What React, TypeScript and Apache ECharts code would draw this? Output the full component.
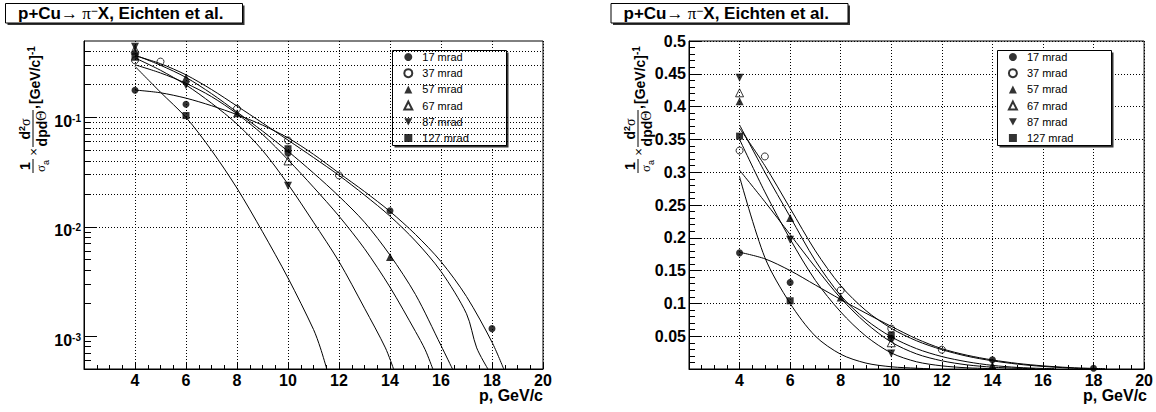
import React, { useEffect, useRef } from 'react';
import * as echarts from 'echarts';

const SANS = '"Liberation Sans", Arial, Helvetica, sans-serif';
const SERIF = '"Liberation Serif", "DejaVu Serif", serif';

// Production angles (legend labels)
const angles = ['17 mrad', '37 mrad', '57 mrad', '67 mrad', '87 mrad', '127 mrad'];

// Measured points [p (GeV/c), value]
const pts17 = [[4, 0.177], [6, 0.132], [10, 0.047], [14, 0.014], [18, 0.00117]];
const pts37 = [[4, 0.333], [5, 0.324], [8, 0.12], [10, 0.0616], [12, 0.0295]];
const pts57 = [[4, 0.408], [6, 0.23], [8, 0.109], [14, 0.0053]];
const pts67 = [[4, 0.421], [10, 0.04]];
const pts87 = [[4, 0.444], [6, 0.197], [10, 0.0237]];
const pts127 = [[4, 0.355], [6, 0.104], [10, 0.0517]];

// Parametrisation curves, sampled [p, value]
const fit17 = [[4, 0.178], [5, 0.168], [6, 0.15], [7, 0.128], [8, 0.106], [9, 0.085], [10, 0.065], [11, 0.046], [12, 0.031], [13, 0.021], [14, 0.0138], [15, 0.0085], [16, 0.0048], [17, 0.0023], [18, 0.00088], [18.46, 0.0005]];
const fit37 = [[4, 0.367], [5, 0.31], [6, 0.245], [7, 0.18], [8, 0.127], [9, 0.089], [10, 0.062], [11, 0.043], [12, 0.0295], [13, 0.0195], [14, 0.0125], [15, 0.0074], [16, 0.0039], [17, 0.0016], [17.4, 0.00078], [17.84, 0.0005]];
const fit57 = [[4, 0.372], [5, 0.3], [6, 0.232], [7, 0.165], [8, 0.112], [9, 0.075], [10, 0.049], [11, 0.031], [12, 0.019], [13, 0.011], [14, 0.0055], [15, 0.0024], [16, 0.00082], [16.45, 0.0005]];
const fit67 = [[4, 0.303], [5, 0.255], [6, 0.205], [7, 0.155], [8, 0.108], [9, 0.07], [10, 0.041], [11, 0.023], [12, 0.0125], [13, 0.0063], [14, 0.0028], [15, 0.0011], [15.38, 0.00075], [15.68, 0.0005]];
const fit87 = [[4, 0.35], [5, 0.27], [6, 0.198], [7, 0.135], [8, 0.087], [9, 0.05], [10, 0.0245], [11, 0.011], [12, 0.0048], [13, 0.0018], [13.82, 0.00078], [14.14, 0.0005]];
const fit127 = [[4, 0.293], [5, 0.17], [6, 0.1], [7, 0.05], [8, 0.0225], [9, 0.009], [10, 0.0034], [11, 0.00115], [11.27, 0.00078], [11.52, 0.0005]];

const points = [pts17, pts37, pts57, pts67, pts87, pts127];
const fits = [fit17, fit37, fit57, fit67, fit87, fit127];

// Axis settings
const xMin = 2;
const xMax = 20;
const xStep = 2;
const xTitle = 'p, GeV/c';
const logMin = 0.0005;
const logMax = 0.5;
const logMajor = [0.001, 0.01, 0.1];
const linMax = 0.5;
const linStep = 0.05;

// minor log ticks at 2..9 x decade inside the axis range
const logMinor: number[] = [];
[0.0001, 0.001, 0.01, 0.1].forEach((d) => {
  for (let m = 2; m <= 9; m++) {
    const v = Number((m * d).toPrecision(6));
    if (v > logMin && v < logMax) logMinor.push(v);
  }
});
const logGrid = [...logMajor, ...logMinor];

const DOT = [1, 2];

// marker look for each angle
const markerDefs = [
  { symbol: 'circle', size: 7, hollow: false },
  { symbol: 'circle', size: 7, hollow: true },
  { symbol: 'triangle', size: 8, hollow: false },
  { symbol: 'triangle', size: 8, hollow: true },
  { symbol: 'path://M0,0L10,0L5,9Z', size: 8, hollow: false },
  { symbol: 'rect', size: 7, hollow: false },
];

function xAxisCfg(gridIndex: number) {
  return {
    type: 'value',
    gridIndex,
    min: xMin,
    max: xMax,
    interval: xStep,
    axisLine: { show: true, lineStyle: { color: '#000', width: 1 } },
    axisTick: { show: true, inside: true, length: 7, lineStyle: { color: '#000' } },
    minorTick: { show: true, splitNumber: 4, length: 4, lineStyle: { color: '#000' } },
    splitLine: { show: true, lineStyle: { color: '#000', type: DOT, width: 1 } },
    axisLabel: {
      showMinLabel: false,
      margin: 3,
      fontSize: 16,
      fontWeight: 'bold',
      fontFamily: SANS,
      color: '#000',
    },
  };
}

const labelRich = {
  b: { fontSize: 16, fontWeight: 'bold', fontFamily: SANS, color: '#000', verticalAlign: 'bottom', lineHeight: 16 },
  s: { fontSize: 10, fontWeight: 'bold', fontFamily: SANS, color: '#000', verticalAlign: 'top', lineHeight: 10 },
};

function legendCfg(left: number) {
  return {
    data: angles,
    left,
    top: 51,
    orient: 'vertical',
    padding: 0,
    itemWidth: 8,
    itemHeight: 8,
    itemGap: 4.2,
    selectedMode: false,
    z: 6,
    textStyle: { fontSize: 11, fontFamily: SANS, color: '#000', lineHeight: 12, padding: [0, 0, 0, 5] },
  };
}

function boxWithShadow(x: number, y: number, w: number, h: number) {
  return [
    { type: 'rect', z: 5, silent: true, shape: { x: x + 2, y: y + 2, width: w, height: h }, style: { fill: '#333', stroke: 'none' } },
    { type: 'rect', z: 5, silent: true, shape: { x, y, width: w, height: h }, style: { fill: '#fff', stroke: '#000', lineWidth: 1 } },
  ];
}

function titleBox(x: number) {
  return [
    ...boxWithShadow(x + 5.5, 3.5, 237, 19.5),
    {
      type: 'text',
      z: 6,
      silent: true,
      x: x + 18,
      y: 13.5,
      style: {
        text: '{b|p+Cu}{a|\u2192 \u03c0}{s|\u2212}{b|X, Eichten et al.}',
        verticalAlign: 'middle',
        rich: {
          b: { fontFamily: SANS, fontWeight: 'bold', fontSize: 17, fill: '#000', lineHeight: 18 },
          a: { fontFamily: SERIF, fontSize: 17, fill: '#000', lineHeight: 18 },
          s: { fontFamily: SANS, fontSize: 12, fill: '#000', verticalAlign: 'top', lineHeight: 10 },
        },
      },
    },
  ];
}

function axisTitle(right: number) {
  return {
    type: 'text',
    silent: true,
    x: right,
    y: 387,
    style: {
      text: xTitle,
      fontFamily: SANS,
      fontWeight: 'bold',
      fontSize: 16,
      fill: '#000',
      align: 'right',
      verticalAlign: 'top',
    },
  };
}

function yTitle(x: number, y: number) {
  const bold = { fontFamily: SANS, fontWeight: 'bold', fill: '#000' };
  return {
    type: 'group',
    x,
    y,
    rotation: Math.PI / 2,
    silent: true,
    children: [
      { type: 'text', x: 8, y: -1, style: { ...bold, text: '1', fontSize: 14, align: 'center', verticalAlign: 'bottom' } },
      { type: 'line', shape: { x1: 1, y1: 0, x2: 15, y2: 0 }, style: { stroke: '#000', lineWidth: 1 } },
      {
        type: 'text', x: 8, y: 1,
        style: {
          text: '{g|\u03c3}{a|a}', align: 'center', verticalAlign: 'top',
          rich: {
            g: { fontFamily: SERIF, fontSize: 13, fill: '#000', lineHeight: 13, verticalAlign: 'top' },
            a: { fontFamily: SANS, fontSize: 9, fill: '#000', lineHeight: 16, verticalAlign: 'bottom' },
          },
        },
      },
      { type: 'text', x: 22, y: 0, style: { text: '\u00d7', fontFamily: SANS, fontSize: 13, fill: '#000', align: 'center', verticalAlign: 'middle' } },
      {
        type: 'text', x: 45, y: -1,
        style: {
          text: '{d|d}{t|2}{g|\u03c3}', align: 'center', verticalAlign: 'bottom',
          rich: {
            d: { ...bold, fontSize: 14, lineHeight: 15, verticalAlign: 'bottom' },
            t: { ...bold, fontSize: 9, lineHeight: 9, verticalAlign: 'top' },
            g: { fontFamily: SERIF, fontSize: 14, fill: '#000', lineHeight: 15, verticalAlign: 'bottom' },
          },
        },
      },
      { type: 'line', shape: { x1: 27, y1: 0, x2: 64, y2: 0 }, style: { stroke: '#000', lineWidth: 1 } },
      {
        type: 'text', x: 45.5, y: 1,
        style: {
          text: '{d|dpd}{g|\u0398}', align: 'center', verticalAlign: 'top',
          rich: {
            d: { ...bold, fontSize: 14, lineHeight: 15 },
            g: { fontFamily: SERIF, fontSize: 14, fill: '#000', lineHeight: 15 },
          },
        },
      },
      { type: 'text', x: 65, y: 7, style: { ...bold, text: ',', fontSize: 14, align: 'left', verticalAlign: 'bottom' } },
      {
        type: 'text', x: 70, y: 1,
        style: {
          text: '{b|[GeV/c]}{s|-1}', align: 'left', verticalAlign: 'middle',
          rich: {
            b: { ...bold, fontSize: 14, lineHeight: 16, verticalAlign: 'bottom' },
            s: { ...bold, fontSize: 10, lineHeight: 10, verticalAlign: 'top' },
          },
        },
      },
    ],
  };
}

function buildOption() {
  const series: any[] = [];
  // parametrisation curves, both panels
  fits.forEach((f, i) => {
    series.push({
      type: 'line',
      name: 'fit ' + angles[i],
      xAxisIndex: 0,
      yAxisIndex: 0,
      data: f,
      showSymbol: false,
      smooth: 0.3,
      lineStyle: { color: '#000', width: 1 },
      silent: true,
      z: 3,
      markLine:
        i === 0
          ? {
              silent: true,
              symbol: 'none',
              label: { show: false },
              lineStyle: { color: '#000', type: DOT, width: 1 },
              data: logGrid.map((v) => ({ yAxis: v })),
            }
          : undefined,
    });
    series.push({
      type: 'line',
      name: 'fit ' + angles[i],
      xAxisIndex: 1,
      yAxisIndex: 2,
      data: f,
      showSymbol: false,
      smooth: 0.3,
      lineStyle: { color: '#000', width: 1 },
      silent: true,
      z: 3,
    });
  });
  // measured points, both panels
  points.forEach((p, i) => {
    const m = markerDefs[i];
    const itemStyle = m.hollow
      ? { color: 'rgba(255,255,255,0)', borderColor: '#000', borderWidth: 1 }
      : { color: '#000', borderWidth: 0 };
    [
      [0, 0],
      [1, 2],
    ].forEach(([xi, yi]) => {
      series.push({
        type: 'scatter',
        name: angles[i],
        xAxisIndex: xi,
        yAxisIndex: yi,
        data: p,
        symbol: m.symbol,
        symbolSize: m.size,
        itemStyle,
        z: 4,
        silent: true,
      });
    });
  });

  return {
    animation: false,
    backgroundColor: '#fff',
    textStyle: { fontFamily: SANS },
    grid: [
      { left: 84, top: 41, width: 459, height: 328, show: true, borderColor: '#000', borderWidth: 1, backgroundColor: 'rgba(0,0,0,0)' },
      { left: 689, top: 41, width: 458, height: 328, show: true, borderColor: '#000', borderWidth: 1, backgroundColor: 'rgba(0,0,0,0)' },
    ],
    xAxis: [xAxisCfg(0), xAxisCfg(1)],
    yAxis: [
      {
        type: 'log',
        logBase: 10,
        gridIndex: 0,
        position: 'left',
        min: logMin,
        max: logMax,
        axisLine: { show: true, lineStyle: { color: '#000', width: 1 } },
        axisTick: { show: true, inside: true, length: 13, customValues: logMajor, lineStyle: { color: '#000' } },
        axisLabel: {
          customValues: logMajor,
          margin: 3,
          padding: [8, 0, 0, 0],
          formatter: (v: number) => `{b|10}{s|${Math.round(Math.log10(v))}}`,
          rich: labelRich,
        },
        splitLine: { show: false },
      },
      {
        type: 'log',
        logBase: 10,
        gridIndex: 0,
        position: 'left',
        min: logMin,
        max: logMax,
        axisLine: { show: false },
        axisTick: { show: true, inside: true, length: 7, customValues: logMinor, lineStyle: { color: '#000' } },
        axisLabel: { show: false },
        splitLine: { show: false },
      },
      {
        type: 'value',
        gridIndex: 1,
        position: 'left',
        min: 0,
        max: linMax,
        interval: linStep,
        axisLine: { show: true, lineStyle: { color: '#000', width: 1 } },
        axisTick: { show: true, inside: true, length: 13, lineStyle: { color: '#000' } },
        minorTick: { show: true, splitNumber: 5, length: 6, lineStyle: { color: '#000' } },
        splitLine: { show: true, lineStyle: { color: '#000', type: DOT, width: 1 } },
        axisLabel: {
          showMinLabel: false,
          margin: 3,
          fontSize: 16,
          fontWeight: 'bold',
          fontFamily: SANS,
          color: '#000',
        },
      },
    ],
    legend: [legendCfg(403.3), legendCfg(1007.9)],
    graphic: [
      ...titleBox(0),
      ...titleBox(605.5),
      ...boxWithShadow(392.5, 50.5, 114, 95),
      ...boxWithShadow(997.5, 50.5, 114, 95),
      yTitle(33, 174),
      yTitle(638, 174),
      axisTitle(543),
      axisTitle(1147),
    ],
    series,
  };
}

export default function App() {
  const ref = useRef<HTMLDivElement>(null);
  useEffect(() => {
    document.body.style.margin = '0';
    if (!ref.current) return;
    const chart = echarts.init(ref.current, undefined, { renderer: 'svg' });
    chart.setOption(buildOption() as any);
    return () => chart.dispose();
  }, []);
  return (
    <div
      ref={ref}
      style={{ position: 'absolute', left: 0, top: 0, width: 1156, height: 412, background: '#fff' }}
    />
  );
}
